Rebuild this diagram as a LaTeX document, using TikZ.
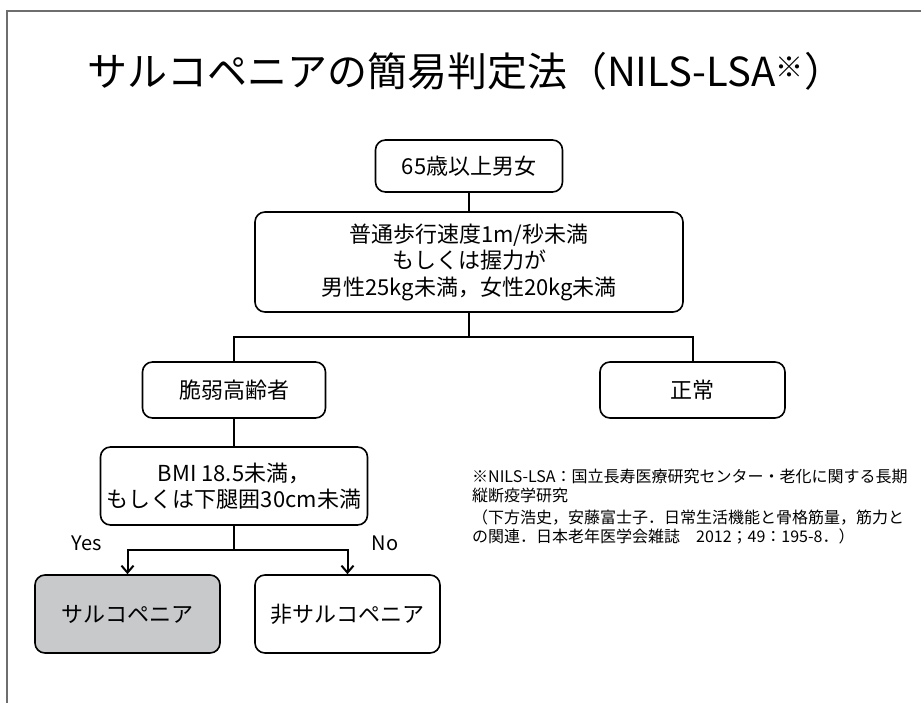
\documentclass[tikz,border=0pt]{standalone}
\usepackage{fontspec}
\setmainfont{Noto Sans CJK JP}
\usetikzlibrary{arrows.meta}
\definecolor{boxgray}{RGB}{200,201,203}
\definecolor{framegray}{RGB}{110,110,110}
\tikzset{
  box/.style={draw=black, line width=1.6pt, rounded corners=10pt, fill=white,
    align=center, inner sep=0pt, font=\fontsize{22}{26.5}\selectfont},
  conn/.style={draw=black, line width=2pt},
  arr/.style={conn, -{Straight Barb[length=7pt,width=12pt,line width=2pt]}},
  lbl/.style={font=\fontsize{20}{24}\selectfont, inner sep=0pt},
}
\begin{document}
\begin{tikzpicture}[x=1pt,y=-1pt]
\useasboundingbox (0,0) rectangle (921,703);
\fill[white] (0,0) rectangle (921,703);
% frame
\draw[framegray, line width=1.6pt] (921,11) -- (7,11) -- (7,703);
% title
\node[inner sep=0pt, font=\fontsize{40}{48}\selectfont] (title) at (466,71)
  {サルコペニアの簡易判定法（NILS-LSA\textsuperscript{※}）};
% boxes
\node[box, minimum width=187pt, minimum height=52pt] (n65) at (469,166) {65歳以上男女};
\node[box, minimum width=428pt, minimum height=100pt] (crit) at (469,262)
  {普通歩行速度1m/秒未満\\もしくは握力が\\男性25kg未満，女性20kg未満};
\node[box, minimum width=183pt, minimum height=56pt] (frail) at (234,390) {脆弱高齢者};
\node[box, minimum width=185pt, minimum height=56pt] (normal) at (692.5,390) {正常};
\node[box, minimum width=267pt, minimum height=78pt] (bmi) at (234,486)
  {BMI 18.5未満，\\もしくは下腿囲30cm未満};
\node[box, fill=boxgray, minimum width=185pt, minimum height=78pt] (sarc) at (127.5,614) {サルコペニア};
\node[box, minimum width=185pt, minimum height=78pt] (nonsarc) at (347.5,614) {非サルコペニア};
% junctions
\coordinate (j1) at (469,337);
\coordinate (j2) at (234,550);
% connectors
\draw[conn] (n65.south) -- (crit.north);
\draw[conn] (crit.south) -- (j1);
\draw[conn] (frail.north) |- (j1) -| (normal.north);
\draw[conn] (frail.south) -- (bmi.north);
\draw[conn] (bmi.south) -- (j2);
\draw[arr] (j2) -| (sarc.north);
\draw[arr] (j2) -| (nonsarc.north);
% labels
\node[lbl] (yes) at (87,543) {Yes};
\node[lbl] (no) at (385,543) {No};
% note
\node[anchor=north west, align=left, inner sep=0pt,
  font=\fontsize{16}{19}\selectfont] (note) at (472,469)
  {※NILS-LSA：国立長寿医療研究センター・老化に関する長期\\
   縦断疫学研究\\[3pt]
   （下方浩史，安藤富士子．日常生活機能と骨格筋量，筋力と\\
   の関連．日本老年医学会雑誌　2012；49：195-8．）};
\end{tikzpicture}
\end{document}
